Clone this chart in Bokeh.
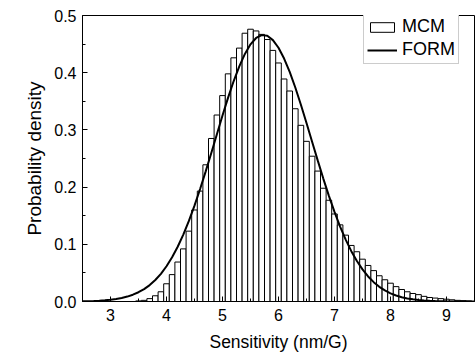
from bokeh.plotting import figure
from bokeh.models import Range1d, FixedTicker, PrintfTickFormatter, Legend, LegendItem
from bokeh.embed import file_html
from bokeh.resources import INLINE

# ---- data ----
bin_centers = [3.5, 3.6, 3.7, 3.8, 3.9, 4.0, 4.1, 4.2, 4.3, 4.4,
               4.5, 4.6, 4.7, 4.8, 4.9, 5.0, 5.1, 5.2, 5.3, 5.4,
               5.5, 5.6, 5.7, 5.8, 5.9, 6.0, 6.1, 6.2, 6.3, 6.4,
               6.5, 6.6, 6.7, 6.8, 6.9, 7.0, 7.1, 7.2, 7.3, 7.4,
               7.5, 7.6, 7.7, 7.8, 7.9, 8.0, 8.1, 8.2, 8.3, 8.4,
               8.5, 8.6, 8.7, 8.8, 8.9, 9.0, 9.1, 9.2, 9.3, 9.4]
mcm_density = [0.001, 0.002, 0.005, 0.010, 0.017, 0.031, 0.047, 0.069, 0.092, 0.123,
               0.160, 0.193, 0.239, 0.285, 0.326, 0.360, 0.398, 0.426, 0.443, 0.469,
               0.476, 0.473, 0.467, 0.458, 0.439, 0.417, 0.389, 0.368, 0.337, 0.308,
               0.280, 0.254, 0.228, 0.198, 0.177, 0.153, 0.134, 0.116, 0.098, 0.087,
               0.074, 0.063, 0.054, 0.045, 0.038, 0.032, 0.026, 0.021, 0.017, 0.014,
               0.012, 0.009, 0.007, 0.006, 0.005, 0.004, 0.003, 0.002, 0.0015, 0.001]
bin_width = 0.1

form_x = [2.5, 2.6, 2.7, 2.8, 2.9, 3.0, 3.1, 3.2, 3.3, 3.4,
          3.5, 3.6, 3.7, 3.8, 3.9, 4.0, 4.1, 4.2, 4.3, 4.4,
          4.5, 4.6, 4.7, 4.8, 4.9, 5.0, 5.1, 5.2, 5.3, 5.4,
          5.5, 5.6, 5.7, 5.8, 5.9, 6.0, 6.1, 6.2, 6.3, 6.4,
          6.5, 6.6, 6.7, 6.8, 6.9, 7.0, 7.1, 7.2, 7.3, 7.4,
          7.5, 7.6, 7.7, 7.8, 7.9, 8.0, 8.1, 8.2, 8.3, 8.4,
          8.5, 8.6, 8.7, 8.8, 8.9, 9.0, 9.1, 9.2, 9.3, 9.4, 9.5]
form_density = [0.0004, 0.0006, 0.0009, 0.0014, 0.0021, 0.0030, 0.0043, 0.0062, 0.0086, 0.0119,
                0.0162, 0.0217, 0.0287, 0.0376, 0.0484, 0.0616, 0.0773, 0.0957, 0.1170, 0.1409,
                0.1675, 0.1966, 0.2275, 0.2597, 0.2925, 0.3251, 0.3564, 0.3854, 0.4112, 0.4329,
                0.4496, 0.4607, 0.4657, 0.4645, 0.4570, 0.4436, 0.4248, 0.4014, 0.3741, 0.3440,
                0.3121, 0.2794, 0.2467, 0.2149, 0.1847, 0.1566, 0.1310, 0.1082, 0.0880, 0.0707,
                0.0561, 0.0438, 0.0338, 0.0257, 0.0193, 0.0143, 0.0104, 0.0075, 0.0054, 0.0038,
                0.0026, 0.0018, 0.0012, 0.0008, 0.0005, 0.0003, 0.0002, 0.0001, 0.0001, 0.0000, 0.0000]

x_ticks = [3, 4, 5, 6, 7, 8, 9]
x_minor = [2.5, 3.5, 4.5, 5.5, 6.5, 7.5, 8.5, 9.5]
y_ticks = [0.0, 0.1, 0.2, 0.3, 0.4, 0.5]
y_minor = [0.05, 0.15, 0.25, 0.35, 0.45]

FONT = "Liberation Sans"

p = figure(width=475, height=356, output_backend="svg", toolbar_location=None,
           x_range=Range1d(2.5, 9.5), y_range=Range1d(0, 0.5),
           min_border_left=82, min_border_right=1, min_border_top=15, min_border_bottom=55)
p.background_fill_color = "white"
p.border_fill_color = "white"
p.outline_line_color = "black"
p.outline_line_width = 1
p.xgrid.visible = False
p.ygrid.visible = False

bars = p.vbar(x=bin_centers, top=mcm_density, bottom=0, width=bin_width,
              fill_color="white", line_color="black", line_width=1)
curve = p.line(form_x, form_density, line_color="black", line_width=2)

for ax, ticks, minor in ((p.xaxis[0], x_ticks, x_minor), (p.yaxis[0], y_ticks, y_minor)):
    ax.ticker = FixedTicker(ticks=ticks, minor_ticks=minor)
    ax.major_tick_in = 5
    ax.major_tick_out = 0
    ax.minor_tick_in = 3
    ax.minor_tick_out = 0
    ax.axis_line_color = "black"
    ax.major_tick_line_color = "black"
    ax.minor_tick_line_color = "black"
    ax.major_label_text_font = FONT
    ax.major_label_text_font_size = "16px"
    ax.major_label_text_color = "black"
    ax.axis_label_text_font = FONT
    ax.axis_label_text_font_style = "normal"
    ax.axis_label_text_color = "black"

p.xaxis[0].axis_label = "Sensitivity (nm/G)"
p.xaxis[0].axis_label_text_font_size = "17.5px"
p.xaxis[0].axis_label_standoff = 8
p.xaxis[0].major_label_standoff = 7
p.yaxis[0].axis_label = "Probability density"
p.yaxis[0].axis_label_text_font_size = "19px"
p.yaxis[0].axis_label_standoff = 6
p.yaxis[0].major_label_standoff = 6
p.yaxis[0].formatter = PrintfTickFormatter(format="%.1f")

legend = Legend(items=[LegendItem(label="MCM", renderers=[bars]),
                       LegendItem(label="FORM", renderers=[curve])],
                location=(281, 237))
legend.label_text_font = FONT
legend.label_text_font_size = "18px"
legend.label_text_color = "black"
legend.glyph_width = 30
legend.glyph_height = 12
legend.label_height = 18
legend.label_standoff = 5
legend.spacing = 2
legend.padding = 3
legend.margin = 0
legend.border_line_color = "#999999"
legend.border_line_width = 1
legend.background_fill_color = "white"
legend.background_fill_alpha = 1
p.add_layout(legend)

open("out.html", "w").write(file_html(p, INLINE))
